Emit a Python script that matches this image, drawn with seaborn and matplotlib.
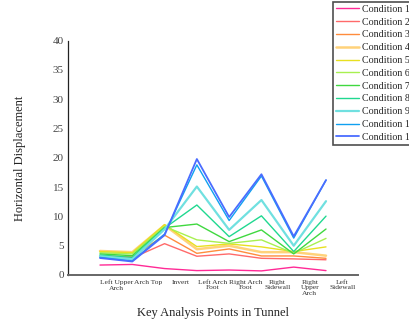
import matplotlib
matplotlib.use("Agg")
import matplotlib.pyplot as plt
import seaborn as sns
import pandas as pd
import numpy as np
from matplotlib.ticker import MultipleLocator

categories = ["Left Upper\nArch", "Arch Top", "Invert", "Left Arch\nFoot", "Right Arch\nFoot",
              "Right\nSidewall", "Right\nUpper\nArch", "Left\nSidewall"]
conditions = [f"Condition {i}" for i in range(1, 12)]

c1 = [1.7, 1.8, 1.1, 0.75, 0.85, 0.7, 1.35, 0.75]
c2 = [3.0, 2.9, 5.35, 3.2, 3.6, 2.85, 2.75, 2.6]
c3 = [3.3, 3.1, 6.8, 3.7, 4.45, 3.25, 3.25, 2.85]
c4 = [4.1, 3.9, 8.5, 4.4, 5.0, 3.9, 3.9, 3.3]
c5 = [4.0, 3.8, 8.6, 4.85, 5.3, 4.8, 4.0, 4.8]
c6 = [3.8, 3.6, 8.3, 6.0, 5.4, 6.0, 3.7, 6.25]
c7 = [3.6, 3.3, 8.1, 8.7, 5.7, 7.7, 3.6, 7.85]
c8 = [3.4, 3.0, 8.0, 11.95, 6.55, 10.1, 4.0, 10.05]
c9 = [3.2, 2.7, 7.8, 15.1, 7.7, 12.8, 5.0, 12.6]
c10 = [3.0, 2.4, 7.0, 18.8, 9.3, 16.9, 6.3, 16.2]
c11 = [2.9, 2.3, 6.8, 19.8, 9.9, 17.2, 6.6, 16.2]
series = [c1, c2, c3, c4, c5, c6, c7, c8, c9, c10, c11]

colors = ["#ff2a96", "#ff6a6a", "#ff8c3c", "#ffd27a", "#e8e020", "#a8f050",
          "#40d840", "#20d890", "#70e0e0", "#10a0f0", "#4a6cff"]
widths = [1.0, 1.0, 1.0, 1.8, 1.0, 1.0, 1.0, 1.0, 1.6, 1.0, 1.3]

rows = []
for name, vals in zip(conditions, series):
    for i, v in enumerate(vals):
        rows.append({"pos": i + 1, "val": v, "cond": name})
df = pd.DataFrame(rows)

sns.set_style("white")
plt.rcParams["font.family"] = ["Liberation Serif", "DejaVu Serif"]

fig = plt.figure(figsize=(4.09, 3.24), dpi=100)
ax = fig.add_axes([67.7 / 409, 49 / 324, (358.3 - 67.7) / 409, (275 - 40.7) / 324])

sns.lineplot(data=df, x="pos", y="val", hue="cond", hue_order=conditions,
             palette=colors, ax=ax, legend=False, linewidth=1.0)
for line, w in zip(ax.get_lines(), widths):
    line.set_linewidth(w)

ax.set_xlim(0, 9)
ax.set_ylim(0, 40)
ax.yaxis.set_major_locator(MultipleLocator(5))
ax.yaxis.set_minor_locator(MultipleLocator(2.5))
ax.set_xticks(np.arange(0, 10))
ax.set_xticklabels([])
ax.set_xticks(np.arange(len(categories)) + 1.5, minor=True)
ax.set_xticklabels(categories, minor=True, fontsize=5.4, color="#333333", linespacing=1.1)
ax.tick_params(axis="x", which="major", direction="out", length=4, width=0.8, color="#333333")
ax.tick_params(axis="x", which="minor", direction="out", length=2, width=0.8, color="#333333", pad=1.5)
ax.tick_params(axis="y", which="major", direction="out", length=2.5, width=0.8, color="#333333",
               labelsize=8, labelcolor="#444444", pad=0.3)
ax.tick_params(axis="y", which="minor", direction="out", length=1.5, width=0.8, color="#333333")

for s in ["top", "right"]:
    ax.spines[s].set_visible(False)
ax.spines["left"].set_color("#222222")
ax.spines["left"].set_linewidth(0.9)
ax.spines["bottom"].set_color("#666666")
ax.spines["bottom"].set_linewidth(1.4)

ax.set_xlabel("Key Analysis Points in Tunnel", fontsize=9, color="#222222")
ax.xaxis.set_label_coords(0.5, -0.162)
ax.xaxis.label.set_va("center")
ax.set_ylabel("Horizontal Displacement", fontsize=9, color="#222222")
ax.yaxis.set_label_coords(-0.164, 0.5)
ax.yaxis.label.set_va("center")

handles = ax.get_lines()[:len(conditions)]
leg = fig.legend(handles, conditions, loc="upper left", bbox_to_anchor=(333 / 409, 1 - 2 / 324),
                 fontsize=7.2, frameon=True, fancybox=False, handlelength=2.3, handletextpad=0.33,
                 labelspacing=0.38, borderpad=0.28, borderaxespad=0)
leg.get_frame().set_edgecolor("#222222")
leg.get_frame().set_linewidth(1.2)

fig.savefig("out.png", dpi=100)
